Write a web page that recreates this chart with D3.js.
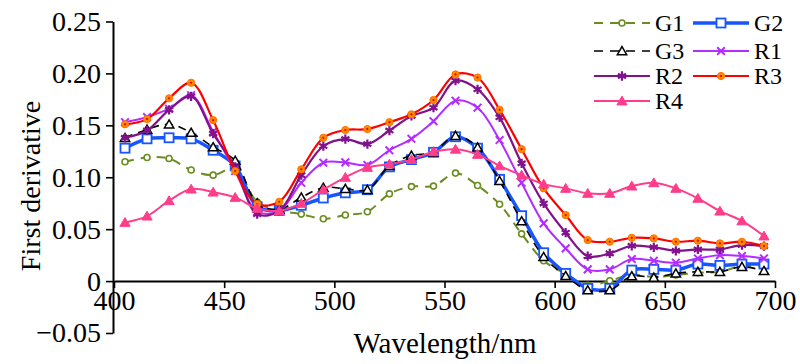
<!DOCTYPE html>
<html>
<head>
<meta charset="utf-8">
<script src="https://cdn.jsdelivr.net/npm/d3@7"></script>
<style>
  body { margin: 0; background: #fff; }
</style>
</head>
<body>
<div class="chart"></div>
<script>
const FONT = "'Liberation Serif', 'Times New Roman', serif";

// wavelengths sampled every 10 nm
const wavelengths = d3.range(405, 700, 10);

const g1 = [0.115, 0.119, 0.118, 0.107, 0.102, 0.109, 0.076, 0.068, 0.0645, 0.060, 0.0636, 0.0668, 0.084, 0.091, 0.0915, 0.104, 0.092, 0.074, 0.0455, 0.0196, 0.007, -0.004, 0.0003, 0.006, 0.004, 0.0058, 0.008, 0.009, 0.0145, 0.0138];
const g2 = [0.128, 0.137, 0.138, 0.137, 0.126, 0.111, 0.0716, 0.068, 0.073, 0.080, 0.085, 0.088, 0.110, 0.117, 0.124, 0.139, 0.128, 0.098, 0.063, 0.0273, 0.0074, -0.007, -0.007, 0.0106, 0.0113, 0.0106, 0.0164, 0.0151, 0.0164, 0.0164];
const g3 = [0.138, 0.146, 0.151, 0.143, 0.129, 0.116, 0.075, 0.069, 0.0806, 0.090, 0.089, 0.088, 0.111, 0.121, 0.124, 0.140, 0.1288, 0.0966, 0.0578, 0.0234, 0.005, -0.0087, -0.0087, 0.0048, 0.0035, 0.0074, 0.009, 0.009, 0.0138, 0.0099];
const r1 = [0.153, 0.158, 0.166, 0.179, 0.144, 0.106, 0.067, 0.0677, 0.0947, 0.114, 0.1143, 0.1118, 0.126, 0.137, 0.154, 0.1737, 0.167, 0.1358, 0.0947, 0.0556, 0.0315, 0.0113, 0.0113, 0.0212, 0.0196, 0.0177, 0.0218, 0.025, 0.0241, 0.0218];
const r2 = [0.138, 0.145, 0.165, 0.178, 0.142, 0.110, 0.0645, 0.0677, 0.102, 0.130, 0.1368, 0.132, 0.145, 0.159, 0.167, 0.193, 0.1847, 0.1577, 0.1134, 0.0748, 0.0466, 0.024, 0.0267, 0.034, 0.0325, 0.0292, 0.0305, 0.0305, 0.0347, 0.0337];
const r3 = [0.151, 0.156, 0.176, 0.191, 0.155, 0.106, 0.0742, 0.0764, 0.1076, 0.138, 0.1455, 0.1464, 0.153, 0.1606, 0.1744, 0.199, 0.196, 0.165, 0.127, 0.0893, 0.0636, 0.0395, 0.0379, 0.0417, 0.0411, 0.0379, 0.0389, 0.0363, 0.0379, 0.0337];
const r4 = [0.0565, 0.0626, 0.0774, 0.0886, 0.0857, 0.0806, 0.070, 0.0677, 0.0748, 0.088, 0.0999, 0.1095, 0.1127, 0.117, 0.1246, 0.127, 0.122, 0.111, 0.102, 0.0934, 0.0893, 0.0845, 0.0845, 0.0915, 0.0947, 0.0893, 0.0797, 0.0674, 0.058, 0.0434];

const yTicks = [-0.05, 0, 0.05, 0.10, 0.15, 0.20, 0.25];
const xTicks = [400, 450, 500, 550, 600, 650, 700];

const series = [
  { name: "G1", values: g1, color: "#6b8c1f", dash: "9,7", width: 2, marker: "circle" },
  { name: "G2", values: g2, color: "#1655ff", dash: null, width: 3.5, marker: "square" },
  { name: "G3", values: g3, color: "#000000", dash: "8,6", width: 1.6, marker: "triangle" },
  { name: "R1", values: r1, color: "#b42cff", dash: null, width: 2, marker: "times" },
  { name: "R2", values: r2, color: "#82128c", dash: null, width: 2.2, marker: "asterisk" },
  { name: "R3", values: r3, color: "#ff0000", dash: null, width: 2.2, marker: "dot" },
  { name: "R4", values: r4, color: "#ff3d8b", dash: null, width: 2, marker: "filledTriangle" }
];

const width = 800, height = 364;
const svg = d3.select("div.chart").append("svg")
  .attr("width", width)
  .attr("height", height)
  .attr("font-family", FONT);

const x = d3.scaleLinear().domain([400, 700]).range([114, 775]);
const y = d3.scaleLinear().domain([-0.05, 0.25]).range([333, 21.5]);

// y axis
const yAxis = svg.append("g")
  .attr("transform", `translate(${x(400) - 1},0)`)
  .call(d3.axisLeft(y)
    .tickValues(yTicks)
    .tickSize(7)
    .tickSizeOuter(0)
    .tickPadding(5)
    .tickFormat(d => d === 0 ? "0" : d3.format(".2f")(d)));

// x axis through zero
const xAxis = svg.append("g")
  .attr("transform", `translate(0,${y(0)})`)
  .call(d3.axisBottom(x)
    .tickValues(xTicks)
    .tickSize(7)
    .tickSizeOuter(0)
    .tickPadding(2));

[yAxis, xAxis].forEach(ax => {
  ax.attr("font-family", FONT).attr("font-size", 28);
  ax.select(".domain").attr("stroke", "#000").attr("stroke-width", 2);
  ax.selectAll(".tick line").attr("stroke", "#000").attr("stroke-width", 1.6);
  ax.selectAll(".tick text")
    .attr("fill", "#000")
    .attr("font-family", FONT)
    .attr("font-size", 28);
});

svg.append("text")
  .attr("x", 445)
  .attr("y", 353)
  .attr("text-anchor", "middle")
  .attr("font-family", FONT)
  .attr("font-size", 29)
  .text("Wavelength/nm");

svg.append("text")
  .attr("transform", "translate(40,186) rotate(-90)")
  .attr("text-anchor", "middle")
  .attr("font-family", FONT)
  .attr("font-size", 28)
  .text("First derivative");

const line = d3.line()
  .x((d, i) => x(wavelengths[i]))
  .y(d => y(d))
  .curve(d3.curveCatmullRom.alpha(0.5));

function drawMarker(g, s, cx, cy) {
  if (s.marker === "circle") {
    g.append("circle").attr("cx", cx).attr("cy", cy).attr("r", 3)
      .attr("fill", "#fff").attr("stroke", s.color).attr("stroke-width", 1.6);
  } else if (s.marker === "square") {
    g.append("rect").attr("x", cx - 4.5).attr("y", cy - 4.5).attr("width", 9).attr("height", 9)
      .attr("fill", "#fff").attr("stroke", s.color).attr("stroke-width", 1.8);
  } else if (s.marker === "triangle") {
    g.append("path").attr("transform", `translate(${cx},${cy + 1})`)
      .attr("d", d3.symbol(d3.symbolTriangle, 38)())
      .attr("fill", "#fff").attr("stroke", s.color).attr("stroke-width", 1.5);
  } else if (s.marker === "times") {
    g.append("path").attr("transform", `translate(${cx},${cy})`)
      .attr("d", d3.symbol(d3.symbolTimes, 40)())
      .attr("fill", "none").attr("stroke", s.color).attr("stroke-width", 2);
  } else if (s.marker === "asterisk") {
    g.append("path").attr("transform", `translate(${cx},${cy})`)
      .attr("d", d3.symbol(d3.symbolAsterisk, 60)())
      .attr("fill", "none").attr("stroke", s.color).attr("stroke-width", 2.2);
  } else if (s.marker === "dot") {
    g.append("circle").attr("cx", cx).attr("cy", cy).attr("r", 3.6)
      .attr("fill", "#ff8a00").attr("stroke", "#ff7000").attr("stroke-width", 1);
    g.append("circle").attr("cx", cx).attr("cy", cy).attr("r", 1.1)
      .attr("fill", "#e00000");
  } else if (s.marker === "filledTriangle") {
    g.append("path").attr("transform", `translate(${cx},${cy + 1})`)
      .attr("d", d3.symbol(d3.symbolTriangle, 45)())
      .attr("fill", s.color).attr("stroke", s.color).attr("stroke-width", 1);
  }
}

// series
series.forEach(s => {
  const g = svg.append("g").attr("class", `series-${s.name}`);
  g.append("path")
    .datum(s.values)
    .attr("d", line)
    .attr("fill", "none")
    .attr("stroke", s.color)
    .attr("stroke-width", s.width)
    .attr("stroke-dasharray", s.dash);
  s.values.forEach((v, i) => drawMarker(g, s, x(wavelengths[i]), y(v)));
});

// legend
const legendRows = [23, 51, 76, 101];
const legendCols = [594, 693];
series.forEach((s, i) => {
  const lx = legendCols[i % 2];
  const ly = legendRows[Math.floor(i / 2)];
  const g = svg.append("g").attr("class", "legend");
  g.append("line")
    .attr("x1", lx).attr("x2", lx + 56)
    .attr("y1", ly).attr("y2", ly)
    .attr("stroke", s.color)
    .attr("stroke-width", s.width)
    .attr("stroke-dasharray", s.dash ? "9,7" : null);
  drawMarker(g, s, lx + 28, ly);
  g.append("text")
    .attr("x", lx + 61)
    .attr("y", ly + 8)
    .attr("font-family", FONT)
    .attr("font-size", 24)
    .text(s.name);
});
</script>
</body>
</html>
